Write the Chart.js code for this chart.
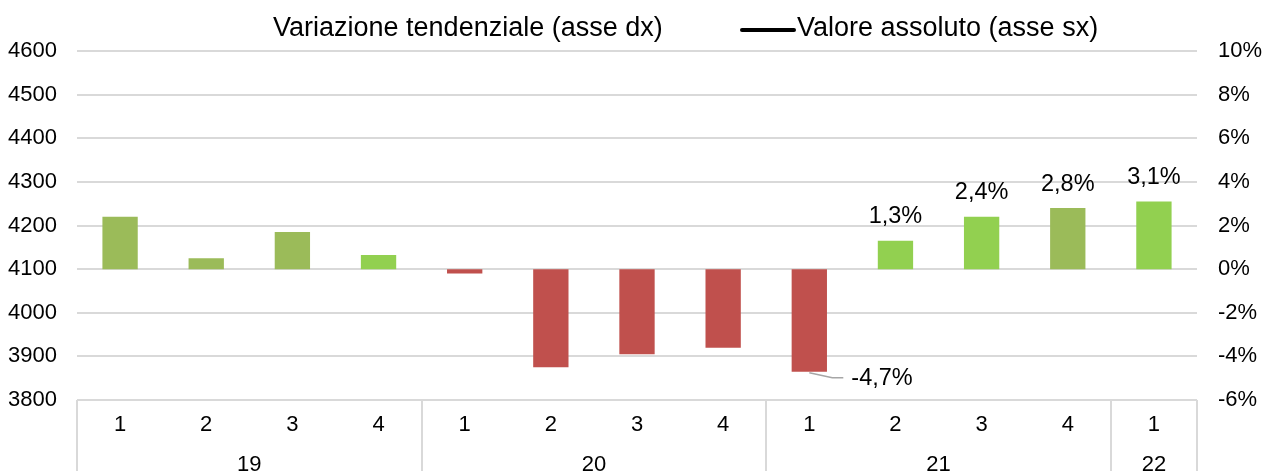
<!DOCTYPE html>
<html>
<head>
<meta charset="utf-8">
<script src="https://cdn.jsdelivr.net/npm/chart.js@4"></script>
<style>
html, body { margin: 0; padding: 0; background: #fff; }
#wrap { width: 1267px; height: 471px; }
</style>
</head>
<body>
<div id="wrap"><canvas id="chart" width="1267" height="471"></canvas></div>
<script>
// quarters and years (two-level category axis)
const quarters = ['1','2','3','4','1','2','3','4','1','2','3','4','1']
const years = ['19','20','21','22']
const quartersPerYear = [4, 4, 4, 1]

// year-on-year change, % (right axis)
const yoyChange = [2.4, 0.5, 1.7, 0.65, -0.2, -4.5, -3.9, -3.6, -4.7, 1.3, 2.4, 2.8, 3.1]
// absolute value (left axis) - not visible in the reference
const absoluteValues = []

// which bars carry a value label
const labelledIdx = [8, 9, 10, 11, 12]

const leftTicks = { min: 3800, max: 4600, step: 100 }
const rightTicks = { min: -6, max: 10, step: 2 }

const olive = '#9BBB59'
const lime = '#92D050'
const red = '#C0504D'
const barColors = [olive, olive, olive, lime, red, red, red, red, red, lime, lime, olive, lime]

const FONT = 'Liberation Sans, Arial, sans-serif'
const GRID = '#D9D9D9'

const fmtPct = v => v.toFixed(1).replace('.', ',') + '%'

// custom legend, year row and value labels
const extras = {
  id: 'extras',
  afterDraw(chart) {
    const c = chart.ctx
    const x = chart.scales.x
    const area = chart.chartArea
    const H = chart.height

    // group separators + year labels
    c.save()
    c.strokeStyle = GRID
    c.lineWidth = 2
    const step = (x.right - x.left) / quarters.length
    let start = 0
    const bounds = [0]
    quartersPerYear.forEach(n => { start += n; bounds.push(start) })
    bounds.forEach(b => {
      const px = Math.round(x.left + b * step)
      c.beginPath()
      c.moveTo(px, area.bottom)
      c.lineTo(px, H)
      c.stroke()
    })
    c.fillStyle = '#000'
    c.font = '22px ' + FONT
    c.textAlign = 'center'
    c.textBaseline = 'alphabetic'
    years.forEach((y, i) => {
      const mid = x.left + (bounds[i] + bounds[i + 1]) / 2 * step
      c.fillText(y, mid, 471)
    })
    c.restore()

    // legend
    c.save()
    c.font = '27px ' + FONT
    c.fillStyle = '#000'
    c.textBaseline = 'middle'
    c.textAlign = 'left'
    c.fillText(chart.data.datasets[0].label, 273, 29)
    c.strokeStyle = '#000'
    c.lineWidth = 4
    c.lineCap = 'round'
    c.beginPath()
    c.moveTo(742, 30)
    c.lineTo(794, 30)
    c.stroke()
    c.fillText(chart.data.datasets[1].label, 797, 29)
    c.restore()
  },
  afterDatasetsDraw(chart) {
    const c = chart.ctx
    const meta = chart.getDatasetMeta(0)
    c.save()
    c.font = '23.5px ' + FONT
    c.fillStyle = '#000'
    c.textBaseline = 'middle'
    labelledIdx.forEach(i => {
      const bar = meta.data[i]
      const v = yoyChange[i]
      if (v >= 0) {
        c.textAlign = 'center'
        c.fillText(fmtPct(v), bar.x, bar.y - 24)
      } else {
        // leader line to a label at the lower right
        c.strokeStyle = '#A6A6A6'
        c.lineWidth = 1.5
        c.beginPath()
        c.moveTo(bar.x, bar.y + 1)
        c.lineTo(bar.x + 23, bar.y + 6)
        c.lineTo(bar.x + 34, bar.y + 6)
        c.stroke()
        c.textAlign = 'left'
        c.fillText(fmtPct(v), bar.x + 42, bar.y + 7)
      }
    })
    c.restore()
  }
}

new Chart(document.getElementById('chart'), {
  type: 'bar',
  data: {
    labels: quarters,
    datasets: [{
      label: 'Variazione tendenziale (asse dx)',
      data: yoyChange,
      yAxisID: 'yRight',
      backgroundColor: barColors,
      borderWidth: 0,
      categoryPercentage: 1,
      barPercentage: 0.41,
      order: 2
    }, {
      type: 'line',
      label: 'Valore assoluto (asse sx)',
      data: absoluteValues,
      yAxisID: 'yLeft',
      borderColor: '#000',
      borderWidth: 4,
      pointRadius: 0,
      order: 1
    }]
  },
  options: {
    responsive: false,
    animation: false,
    layout: { padding: { top: 51, left: 0, right: 0, bottom: 0 } },
    plugins: {
      legend: { display: false },
      tooltip: { enabled: false }
    },
    scales: {
      x: {
        grid: { display: false, drawTicks: false },
        border: { display: false },
        ticks: { color: '#000', font: { family: FONT, size: 22 }, padding: 12, maxRotation: 0 },
        afterFit: s => { s.height = 71 }
      },
      yLeft: {
        position: 'left',
        min: leftTicks.min,
        max: leftTicks.max,
        grid: { color: GRID, lineWidth: 2, drawTicks: false },
        border: { display: false },
        ticks: { stepSize: leftTicks.step, color: '#000', font: { family: FONT, size: 22 }, padding: 20,
          callback: v => String(v) },
        afterFit: s => { s.width = 77 }
      },
      yRight: {
        position: 'right',
        min: rightTicks.min,
        max: rightTicks.max,
        grid: { display: false, drawTicks: false },
        border: { display: false },
        ticks: { stepSize: rightTicks.step, color: '#000', font: { family: FONT, size: 22 }, padding: 21,
          callback: v => v + '%' },
        afterFit: s => { s.width = 70 }
      }
    }
  },
  plugins: [extras]
})
</script>
</body>
</html>
